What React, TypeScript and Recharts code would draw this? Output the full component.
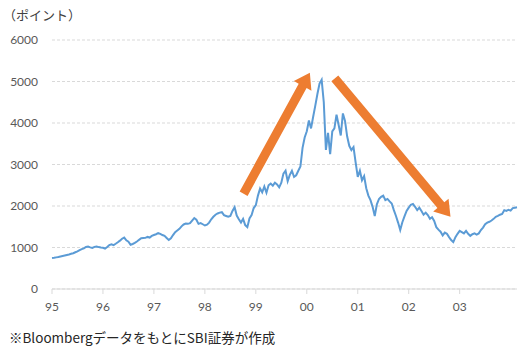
import { CartesianGrid, Line, LineChart, ReferenceLine, XAxis, YAxis } from "recharts"

// 半月ごとの終値（ポイント）
const yearLabels = ["95", "96", "97", "98", "99", "00", "01", "02", "03"]

const y1995 = [745, 752, 762, 770, 782, 793, 805, 818, 832, 848, 862, 885, 905, 935, 962, 978, 1012, 1022, 1002, 990, 1015, 1025, 1010, 1000]
const y1996 = [995, 975, 1010, 1060, 1078, 1058, 1090, 1125, 1165, 1212, 1240, 1172, 1140, 1065, 1085, 1110, 1145, 1185, 1222, 1228, 1232, 1255, 1240, 1280]
const y1997 = [1300, 1320, 1345, 1330, 1300, 1280, 1230, 1180, 1220, 1300, 1370, 1410, 1450, 1510, 1555, 1575, 1570, 1585, 1650, 1710, 1670, 1570, 1590, 1560]
const y1998 = [1530, 1550, 1600, 1680, 1740, 1790, 1820, 1840, 1850, 1780, 1760, 1740, 1760, 1880, 1970, 1770, 1680, 1600, 1690, 1540, 1490, 1700, 1780, 1950]
const y1999 = [2020, 2250, 2420, 2330, 2470, 2320, 2500, 2540, 2490, 2560, 2520, 2450, 2560, 2780, 2850, 2600, 2750, 2850, 2700, 2740, 2850, 2950, 3400, 3650]
const y2000 = [3800, 4060, 3870, 4150, 4420, 4700, 4950, 5040, 4500, 3350, 3760, 3250, 3800, 3870, 4200, 3950, 3700, 4230, 4050, 3680, 3450, 3350, 3420, 3050]
const y2001 = [2700, 2850, 2620, 2720, 2430, 2250, 2140, 1980, 1760, 2040, 2170, 2220, 2250, 2140, 2170, 2110, 2060, 1900, 1760, 1600, 1420, 1610, 1750, 1880]
const y2002 = [1960, 2030, 2050, 1980, 1900, 1960, 1880, 1790, 1840, 1780, 1690, 1730, 1640, 1490, 1430, 1380, 1290, 1360, 1330, 1250, 1180, 1130, 1250, 1330]
const y2003 = [1400, 1370, 1340, 1400, 1330, 1280, 1320, 1340, 1310, 1340, 1420, 1480, 1560, 1600, 1620, 1650, 1690, 1740, 1760, 1790, 1810, 1900, 1880, 1910, 1890, 1950, 1960, 1970]

const yTicks = [0, 1000, 2000, 3000, 4000, 5000, 6000]
const xTicks = [0, 1, 2, 3, 4, 5, 6, 7, 8]

// 矢印（年, ポイント）
const riseArrow = [{ x: 3.76, y: 2296 }, { x: 5.06, y: 5212 }]
const fallArrow = [{ x: 5.55, y: 5077 }, { x: 7.82, y: 1742 }]

const perYear = 24
const values = [y1995, y1996, y1997, y1998, y1999, y2000, y2001, y2002, y2003].flat()
const data = values.map((v, i) => ({ t: i / perYear, v }))
const lastT = (values.length - 1) / perYear

function Arrow(props: any) {
  const { x1, y1, x2, y2 } = props
  const dx = x2 - x1
  const dy = y2 - y1
  const len = Math.hypot(dx, dy)
  const ux = dx / len
  const uy = dy / len
  const px = -uy
  const py = ux
  const head = 15
  const hw = 10
  const sw = 4.5
  const bx = x2 - ux * head
  const by = y2 - uy * head
  const pts = [
    [x1 + px * sw, y1 + py * sw],
    [bx + px * sw, by + py * sw],
    [bx + px * hw, by + py * hw],
    [x2, y2],
    [bx - px * hw, by - py * hw],
    [bx - px * sw, by - py * sw],
    [x1 - px * sw, y1 - py * sw],
  ]
  return <polygon points={pts.map((p) => p.join(",")).join(" ")} fill="#ED7D31" />
}

const tickStyle = { fontFamily: "Lato", fontSize: 12, fill: "#595959" }

export default function App() {
  return (
    <div style={{ position: "absolute", left: 0, top: 0, width: 529, height: 355, background: "#fff" }}>
      <div
        style={{
          position: "absolute",
          left: 3,
          top: 6,
          fontFamily: "'Noto Sans CJK JP'",
          fontSize: 13,
          lineHeight: "18px",
          color: "#404040",
        }}
      >
        （ポイント）
      </div>
      <LineChart width={529} height={355} data={data} margin={{ top: 40, right: 12, bottom: 36, left: 0 }}>
        <CartesianGrid vertical={false} stroke="#d9d9d9" strokeDasharray="3 2" />
        <XAxis
          type="number"
          dataKey="t"
          domain={[0, lastT]}
          ticks={xTicks}
          interval={0}
          tickFormatter={(i: number) => yearLabels[i]}
          stroke="#d9d9d9"
          tickSize={5}
          tickMargin={8}
          height={30}
          tick={tickStyle}
        />
        <YAxis
          domain={[0, 6000]}
          ticks={yTicks}
          axisLine={false}
          tickLine={false}
          width={52}
          tickMargin={8}
          tick={tickStyle}
        />
        <Line
          type="linear"
          dataKey="v"
          stroke="#5B9BD5"
          strokeWidth={2}
          dot={false}
          isAnimationActive={false}
        />
        <ReferenceLine segment={riseArrow} shape={Arrow} ifOverflow="visible" />
        <ReferenceLine segment={fallArrow} shape={Arrow} ifOverflow="visible" />
      </LineChart>
      <div
        style={{
          position: "absolute",
          left: 9,
          top: 328,
          fontFamily: "'Noto Sans CJK JP'",
          fontSize: 13.5,
          lineHeight: "18px",
          color: "#262626",
        }}
      >
        ※BloombergデータをもとにSBI証券が作成
      </div>
    </div>
  )
}
